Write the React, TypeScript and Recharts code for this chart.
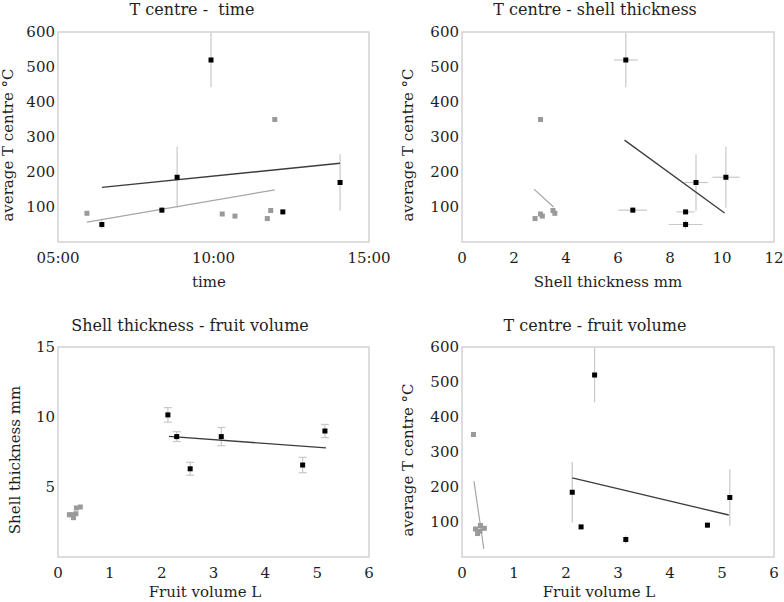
import React from "react";
import { ErrorBar, Label, ReferenceArea, Scatter, ScatterChart, XAxis, YAxis } from "recharts";

const FONT = "'DejaVu Serif', serif";
const INK = "#1e1e1e";
const FRAME = "#d2d2d2";
const WHISKER = "#c8c8c8";

// large fruits (black markers)
const bigTime = [9.92, 8.83, 8.34, 6.41, 12.23, 14.07];
const bigShell = [6.3, 10.15, 6.57, 8.6, 8.6, 9.0];
const bigShellErr = [0.46, 0.52, 0.55, 0.65, 0.35, 0.47];
const bigVolume = [2.55, 2.12, 4.72, 3.15, 2.29, 5.15];
const bigTemp = [520, 185, 91, 50, 86, 170];
const bigTempErr = [78, 87, 8, 12, 0, 81];

// small fruits (grey markers)
const smallTime = [11.97, 11.84, 5.93, 10.28, 10.69, 11.73];
const smallShell = [3.02, 3.5, 3.57, 3.02, 3.09, 2.81];
const smallVolume = [0.22, 0.355, 0.43, 0.26, 0.345, 0.3];
const smallTemp = [350, 90, 82, 80, 74, 67];

// trend lines (start, end)
const fitTimeBig = { x: [6.41, 14.07], y: [156, 225] };
const fitTimeSmall = { x: [5.93, 11.97], y: [57, 149] };
const fitShellBig = { x: [6.25, 10.1], y: [291, 83] };
const fitShellSmall = { x: [2.77, 3.52], y: [151, 100] };
const fitVolShellBig = { x: [2.14, 5.17], y: [8.62, 7.79] };
const fitVolTempBig = { x: [2.12, 5.13], y: [226, 120] };
const fitVolTempSmall = { x: [0.23, 0.42], y: [217, 23] };

const tempTicks = [100, 200, 300, 400, 500, 600];
const timeTicks = [5, 10, 15];
const shellTicks = [0, 2, 4, 6, 8, 10, 12];
const volumeTicks = [0, 1, 2, 3, 4, 5, 6];
const shellAxisTicks = [5, 10, 15];

type Pt = { x: number; y: number; ex: number; ey: number };

const zip = (xs: number[], ys: number[], exs?: number[], eys?: number[]): Pt[] =>
  xs.map((x, i) => ({ x, y: ys[i], ex: exs ? exs[i] : 0, ey: eys ? eys[i] : 0 }));

const square = (fill: string, s: number) => (p: any) =>
  <rect x={p.cx - s / 2} y={p.cy - s / 2} width={s} height={s} fill={fill} />;

const hourFmt = (v: number) => `${String(v).padStart(2, "0")}:00`;

type PanelProps = {
  left: number;
  top: number;
  height: number;
  plotTop: number;
  plotRight: number;
  yWidth: number;
  xHeight: number;
  title: string;
  titleX: number;
  titleBase: number;
  xLabel: string;
  xLabelX: number;
  xLabelBase: number;
  yLabel: string;
  yLabelBase: number;
  xDomain: [number, number];
  xTicks: number[];
  xFmt?: (v: number) => string;
  yDomain: [number, number];
  yTicks: number[];
  big: Pt[];
  small: Pt[];
  bigFit: Pt[];
  smallFit?: Pt[];
  xErr?: boolean;
  yErr?: boolean;
  cap?: number;
};

function Panel(p: PanelProps) {
  const textStyle = { fontFamily: FONT, fontSize: 15, fill: INK };
  return (
    <div style={{ position: "absolute", left: p.left, top: p.top, width: 392, height: p.height }}>
      <div
        style={{
          position: "absolute",
          left: p.titleX - 200,
          width: 400,
          top: p.titleBase - 15,
          textAlign: "center",
          fontFamily: FONT,
          fontSize: 16,
          color: INK,
          whiteSpace: "pre"
        }}
      >
        {p.title}
      </div>
      <ScatterChart
        width={392}
        height={p.height}
        margin={{ top: p.plotTop, right: p.plotRight, bottom: 0, left: 0 }}
      >
        <XAxis
          type="number"
          dataKey="x"
          domain={p.xDomain}
          ticks={p.xTicks}
          interval={0}
          allowDataOverflow
          tickFormatter={p.xFmt}
          axisLine={false}
          tickLine={false}
          tickSize={0}
          tickMargin={10}
          height={p.xHeight}
          tick={textStyle}
        >
          <Label
            content={() => (
              <text x={p.xLabelX} y={p.xLabelBase} textAnchor="middle" style={textStyle}>
                {p.xLabel}
              </text>
            )}
          />
        </XAxis>
        <YAxis
          type="number"
          dataKey="y"
          domain={p.yDomain}
          ticks={p.yTicks}
          interval={0}
          allowDataOverflow
          axisLine={false}
          tickLine={false}
          tickSize={0}
          tickMargin={3}
          width={p.yWidth}
          tick={textStyle}
        >
          <Label
            content={(lp: any) => {
              const vb = lp.viewBox || { y: 0, height: 0 };
              const cy = vb.y + vb.height / 2 + 8;
              return (
                <text
                  x={p.yLabelBase}
                  y={cy}
                  transform={`rotate(-90 ${p.yLabelBase} ${cy})`}
                  textAnchor="middle"
                  style={textStyle}
                >
                  {p.yLabel}
                </text>
              );
            }}
          />
        </YAxis>
        <ReferenceArea
          x1={p.xDomain[0]}
          x2={p.xDomain[1]}
          y1={p.yDomain[0]}
          y2={p.yDomain[1]}
          fill="none"
          stroke={FRAME}
          strokeWidth={1.5}
          ifOverflow="visible"
        />
        {p.smallFit && (
          <Scatter
            data={p.smallFit}
            line={{ stroke: "#a6a6a6", strokeWidth: 1.2 }}
            shape={() => <g />}
            isAnimationActive={false}
          />
        )}
        <Scatter
          data={p.bigFit}
          line={{ stroke: "#3c3c3c", strokeWidth: 1.3 }}
          shape={() => <g />}
          isAnimationActive={false}
        />
        <Scatter data={p.small} shape={square("#9a9a9a", 5)} isAnimationActive={false} />
        <Scatter data={p.big} shape={square("#000", 5)} isAnimationActive={false}>
          {p.xErr && (
            <ErrorBar dataKey="ex" direction="x" width={0} stroke={WHISKER} strokeWidth={1.2} />
          )}
          {p.yErr && (
            <ErrorBar dataKey="ey" direction="y" width={p.cap ?? 0} stroke={WHISKER} strokeWidth={1.2} />
          )}
        </Scatter>
      </ScatterChart>
    </div>
  );
}

export default function App() {
  return (
    <div style={{ position: "absolute", left: 0, top: 0, width: 784, height: 602, background: "#fff" }}>
      <Panel
        left={0}
        top={0}
        height={300}
        plotTop={32}
        plotRight={23}
        yWidth={58}
        xHeight={58}
        title={"T centre -  time"}
        titleX={192}
        titleBase={15}
        xLabel="time"
        xLabelX={209}
        xLabelBase={287}
        yLabel="average T centre °C"
        yLabelBase={13}
        xDomain={[5, 15]}
        xTicks={timeTicks}
        xFmt={hourFmt}
        yDomain={[0, 600]}
        yTicks={tempTicks}
        big={zip(bigTime, bigTemp, undefined, bigTempErr)}
        small={zip(smallTime, smallTemp)}
        bigFit={zip(fitTimeBig.x, fitTimeBig.y)}
        smallFit={zip(fitTimeSmall.x, fitTimeSmall.y)}
        yErr
      />
      <Panel
        left={392}
        top={0}
        height={300}
        plotTop={32}
        plotRight={10}
        yWidth={70}
        xHeight={58}
        title="T centre - shell thickness"
        titleX={203}
        titleBase={15}
        xLabel="Shell thickness mm"
        xLabelX={216}
        xLabelBase={287}
        yLabel="average T centre °C"
        yLabelBase={21}
        xDomain={[0, 12]}
        xTicks={shellTicks}
        yDomain={[0, 600]}
        yTicks={tempTicks}
        big={zip(bigShell, bigTemp, bigShellErr, bigTempErr)}
        small={zip(smallShell, smallTemp)}
        bigFit={zip(fitShellBig.x, fitShellBig.y)}
        smallFit={zip(fitShellSmall.x, fitShellSmall.y)}
        xErr
        yErr
      />
      <Panel
        left={0}
        top={300}
        height={302}
        plotTop={47}
        plotRight={23}
        yWidth={58}
        xHeight={45}
        title="Shell thickness - fruit volume"
        titleX={190}
        titleBase={31}
        xLabel="Fruit volume L"
        xLabelX={205}
        xLabelBase={297}
        yLabel="Shell thickness mm"
        yLabelBase={20}
        xDomain={[0, 6]}
        xTicks={volumeTicks}
        yDomain={[0, 15]}
        yTicks={shellAxisTicks}
        big={zip(bigVolume, bigShell, undefined, bigShellErr)}
        small={zip(smallVolume, smallShell)}
        bigFit={zip(fitVolShellBig.x, fitVolShellBig.y)}
        yErr
        cap={4}
      />
      <Panel
        left={392}
        top={300}
        height={302}
        plotTop={47}
        plotRight={10}
        yWidth={70}
        xHeight={45}
        title="T centre - fruit volume"
        titleX={203}
        titleBase={31}
        xLabel="Fruit volume L"
        xLabelX={207}
        xLabelBase={297}
        yLabel="average T centre °C"
        yLabelBase={21}
        xDomain={[0, 6]}
        xTicks={volumeTicks}
        yDomain={[0, 600]}
        yTicks={tempTicks}
        big={zip(bigVolume, bigTemp, undefined, bigTempErr)}
        small={zip(smallVolume, smallTemp)}
        bigFit={zip(fitVolTempBig.x, fitVolTempBig.y)}
        smallFit={zip(fitVolTempSmall.x, fitVolTempSmall.y)}
        yErr
      />
    </div>
  );
}
